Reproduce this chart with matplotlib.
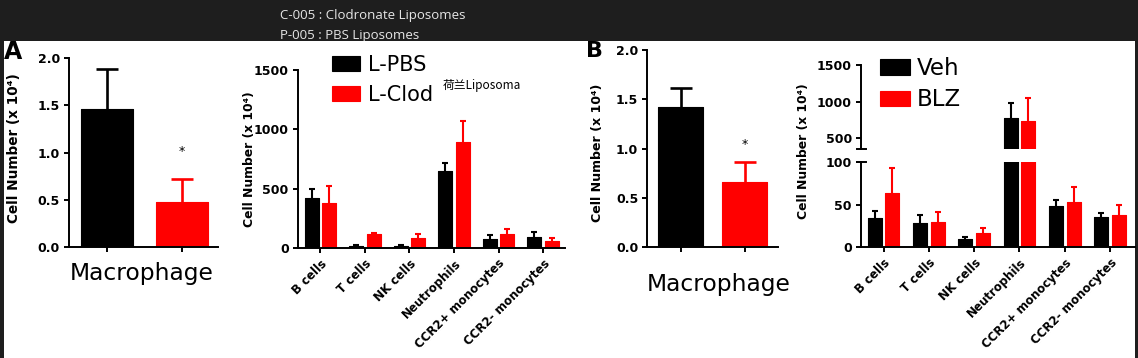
import numpy as np
import matplotlib
matplotlib.use('Agg')
import matplotlib.pyplot as plt
from matplotlib.patches import Rectangle

W, H = 1138, 358
plt.rcParams['font.family'] = ['DejaVu Sans']

# ---------------- data ----------------
mac_groups_A = ['L-PBS', 'L-Clod']
mac_mean_A = [1.46, 0.47]
mac_err_A = [0.43, 0.25]

mac_groups_B = ['Veh', 'BLZ']
mac_mean_B = [1.425, 0.66]
mac_err_B = [0.185, 0.20]

cell_types = ['B cells', 'T cells', 'NK cells', 'Neutrophils',
              'CCR2+ monocytes', 'CCR2- monocytes']
pbs_mean = [419, 20, 18, 646, 73, 90]
pbs_err = [75, 5, 4, 73, 36, 47]
clod_mean = [382, 118, 87, 890, 118, 62]
clod_err = [140, 11, 28, 182, 39, 25]

veh_mean = [34, 28, 10, 781, 48, 35]
veh_err = [9, 10, 1.5, 196, 8, 5.5]
blz_mean = [63.5, 30, 16.5, 740, 53.6, 38]
blz_err = [29.5, 11, 6.5, 305, 17, 11.4]

yticks_mac = [0.0, 0.5, 1.0, 1.5, 2.0]
yticks_A_cells = [0, 500, 1000, 1500]
yticks_B_low = [0, 50, 100]
yticks_B_high = [500, 1000, 1500]

ylabel_txt = 'Cell Number (x 10\u2074)'
BLACK = '#000000'
RED = '#ff0000'
group_colors = [BLACK, RED]

# ---------------- figure ----------------
fig = plt.figure(figsize=(W / 100, H / 100), dpi=100)
fig.patch.set_facecolor('#1e1e1e')

# banner text (partly hidden beneath the white picture)
fig.text(280 / W, 1 - 16 / H, 'C-005 : Clodronate Liposomes', color='#e6e6e6',
         fontsize=9.5, family=['Open Sans', 'DejaVu Sans'], va='center', ha='left', zorder=-2)
fig.text(280 / W, 1 - 36 / H, 'P-005 : PBS Liposomes', color='#e6e6e6',
         fontsize=9.5, family=['Open Sans', 'DejaVu Sans'], va='center', ha='left', zorder=-2)
fig.add_artist(Rectangle((4 / W, 0), (1135 - 4) / W, 1 - 41 / H, transform=fig.transFigure,
                         facecolor='white', edgecolor='none', zorder=-1))


def add_ax(x0, y0, x1, y1):
    ax = fig.add_axes([x0 / W, 1 - y1 / H, (x1 - x0) / W, (y1 - y0) / H])
    ax.patch.set_alpha(0)
    for s in ['top', 'right']:
        ax.spines[s].set_visible(False)
    for s in ['left', 'bottom']:
        ax.spines[s].set_linewidth(1.4)
    ax.tick_params(axis='both', direction='out', length=3.5, width=1.4, labelsize=9, pad=3)
    return ax


def draw_bars(ax, x, mean, err, color, width, capsize, lw):
    x = np.atleast_1d(x)
    mean = np.atleast_1d(mean)
    err = np.atleast_1d(err)
    cont = ax.bar(x, mean, width, color=color, edgecolor=color, linewidth=0.8,
                  joinstyle='round', zorder=2)
    eb = ax.errorbar(x, mean, yerr=[np.zeros(len(mean)), err], fmt='none', ecolor=color,
                     elinewidth=lw, capsize=capsize, capthick=lw, zorder=1.5)
    eb[1][0].set_visible(False)
    return cont


def bold_ticklabels(ax):
    for lab in ax.get_yticklabels() + ax.get_xticklabels():
        lab.set_fontweight('bold')


def set_ylabel(ax, x_px, y_px, x0, y0, x1, y1, size):
    ax.set_ylabel(ylabel_txt, fontsize=size, fontweight='bold')
    ax.yaxis.set_label_coords((x_px - x0) / (x1 - x0), (y1 - y_px) / (y1 - y0))
    ax.yaxis.label.set_verticalalignment('center')


# ---------- Panel A : macrophage ----------
box = (69, 58.3, 218, 246.7)
axA1 = add_ax(*box)
xm = np.arange(2)
for i in range(2):
    draw_bars(axA1, xm[i], mac_mean_A[i], mac_err_A[i], group_colors[i], 0.693, 8, 1.9)
axA1.set_xlim(-0.507, 1.48)
axA1.set_ylim(0, 2)
axA1.set_yticks(yticks_mac)
axA1.set_yticklabels([f'{v:.1f}' for v in yticks_mac])
axA1.set_xticks(xm)
axA1.set_xticklabels(['', ''])
bold_ticklabels(axA1)
set_ylabel(axA1, 14.5, 148, *box, size=9.8)
axA1.text(1, 0.97, '*', ha='center', va='baseline', fontsize=9)
fig.text(141.3 / W, 1 - 280 / H, 'Macrophage', ha='center', va='baseline', fontsize=16.8)

# ---------- Panel A : other cells ----------
box = (297.7, 70, 565, 248)
axA2 = add_ax(*box)
xc = np.arange(len(cell_types))
off, bw = 0.195, 0.315
h1 = draw_bars(axA2, xc - off, pbs_mean, pbs_err, BLACK, bw, 2.2, 1.5)
h2 = draw_bars(axA2, xc + off, clod_mean, clod_err, RED, bw, 2.2, 1.5)
axA2.set_xlim(-0.512, 5.494)
axA2.set_ylim(0, 1500)
axA2.set_yticks(yticks_A_cells)
axA2.set_xticks(xc)
axA2.set_xticklabels(cell_types, rotation=45, ha='right', va='top',
                     rotation_mode='anchor', fontsize=8.5)
bold_ticklabels(axA2)
set_ylabel(axA2, 249, 159.5, *box, size=8.9)
axA2.legend([h1, h2], ['L-PBS', 'L-Clod'], loc='upper left',
            bbox_to_anchor=(332 / W, 1 - 55 / H), bbox_transform=fig.transFigure,
            frameon=False, fontsize=15, handlelength=1.35, handleheight=0.72,
            handletextpad=0.38, labelspacing=0.48, borderpad=0, borderaxespad=0)
fig.text(443 / W, 1 - 85 / H, '荷兰Liposoma', fontsize=8.5,
         family=['Noto Sans CJK SC', 'DejaVu Sans'], ha='left', va='center')

# ---------- Panel B : macrophage ----------
box = (647.3, 50, 778, 247.3)
axB1 = add_ax(*box)
for i in range(2):
    draw_bars(axB1, xm[i], mac_mean_B[i], mac_err_B[i], group_colors[i], 0.71, 8, 1.9)
axB1.set_xlim(-0.519, 1.523)
axB1.set_ylim(0, 2)
axB1.set_yticks(yticks_mac)
axB1.set_yticklabels([f'{v:.1f}' for v in yticks_mac])
axB1.set_xticks(xm)
axB1.set_xticklabels(['', ''])
bold_ticklabels(axB1)
set_ylabel(axB1, 597.5, 152.5, *box, size=9.1)
axB1.text(1, 1.01, '*', ha='center', va='baseline', fontsize=9)
fig.text(718.7 / W, 1 - 290.7 / H, 'Macrophage', ha='center', va='baseline', fontsize=16.8)

# ---------- Panel B : other cells (broken axis) ----------
box_low = (861, 162, 1135, 247.3)
box_high = (861, 65, 1135, 148.5)
axB2 = add_ax(*box_low)
axB3 = add_ax(*box_high)
handles = []
for ax in (axB2, axB3):
    g1 = draw_bars(ax, xc - off, veh_mean, veh_err, BLACK, 0.31, 2.2, 1.5)
    g2 = draw_bars(ax, xc + off, blz_mean, blz_err, RED, 0.31, 2.2, 1.5)
    ax.set_xlim(-0.497, 5.55)
    handles = [g1, g2]
axB2.set_ylim(0, 100)
axB2.set_yticks(yticks_B_low)
axB2.set_xticks(xc)
axB2.set_xticklabels(cell_types, rotation=45, ha='right', va='top',
                     rotation_mode='anchor', fontsize=8.5)
bold_ticklabels(axB2)
axB3.set_ylim(360, 1500)
axB3.set_yticks(yticks_B_high)
axB3.spines['bottom'].set_visible(False)
axB3.set_xticks([])
bold_ticklabels(axB3)
set_ylabel(axB2, 804, 151.5, *box_low, size=8.9)
d = 4.5 / 274
axB3.plot([-d, d], [0, 0], transform=axB3.transAxes, color='k', lw=1.4, clip_on=False)
axB2.plot([-d, d], [1, 1], transform=axB2.transAxes, color='k', lw=1.4, clip_on=False)
axB3.legend(handles, ['Veh', 'BLZ'], loc='upper left',
            bbox_to_anchor=(880 / W, 1 - 57 / H), bbox_transform=fig.transFigure,
            frameon=False, fontsize=16.5, handlelength=1.31, handleheight=0.655,
            handletextpad=0.3, labelspacing=0.36, borderpad=0, borderaxespad=0)

# panel letters
fig.text(13.5 / W, 1 - 52 / H, 'A', fontsize=17, fontweight='bold', ha='center', va='center')
fig.text(595 / W, 1 - 51 / H, 'B', fontsize=16, fontweight='bold', ha='center', va='center')

fig.savefig('out.png', dpi=100, facecolor=fig.get_facecolor())
